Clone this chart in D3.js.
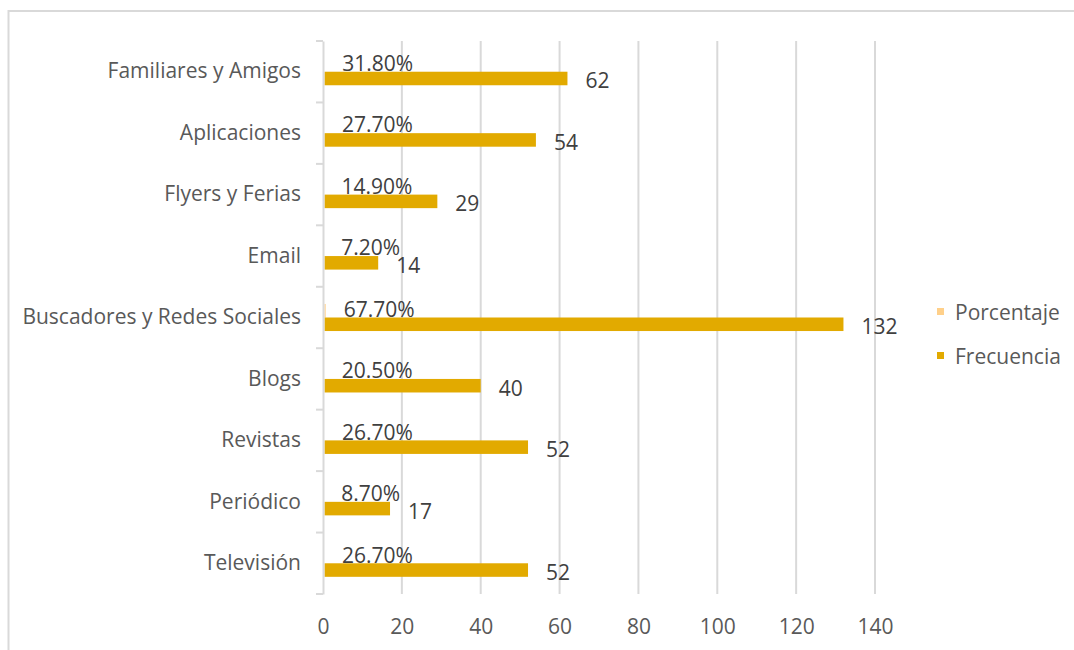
<!DOCTYPE html>
<html><head><meta charset="utf-8">
<script src="https://cdn.jsdelivr.net/npm/d3@7"></script>
<style>body{margin:0;background:#fff;} svg{display:block;}</style>
</head><body>
<svg id="c" width="1074" height="650"></svg>
<script>
const categories = ["Familiares y Amigos","Aplicaciones","Flyers y Ferias","Email","Buscadores y Redes Sociales","Blogs","Revistas","Periódico","Televisión"];
const porcentaje = [0.318,0.277,0.149,0.072,0.677,0.205,0.267,0.087,0.267];
const frecuencia = [62,54,29,14,132,40,52,17,52];
const seriesNames = ["Porcentaje","Frecuencia"];
const seriesColors = ["#FFD08A","#E2AA00"];
const xTicks = [0,20,40,60,80,100,120,140];

const svg = d3.select("#c");
const font = "'Open Sans', sans-serif";
const fs = 21;
const x = d3.scaleLinear().domain([0,140]).range([323,875]);
const y0 = d3.scaleBand().domain(categories).range([41,594]).padding(0);
const y1 = d3.scaleBand().domain(seriesNames).range([0,y0.bandwidth()]).paddingInner(0).paddingOuter(1.27);

// frame
svg.append("rect").attr("x",8.5).attr("y",11).attr("width",1100).attr("height",700)
  .attr("fill","none").attr("stroke","#d9d9d9").attr("stroke-width",2);

// gridlines
svg.append("g").selectAll("line").data(xTicks.slice(1)).join("line")
  .attr("x1",d=>x(d)).attr("x2",d=>x(d)).attr("y1",41).attr("y2",594)
  .attr("stroke","#d9d9d9").attr("stroke-width",2);

// bars
const rows = categories.map((c,i)=>({c, vals:[porcentaje[i],frecuencia[i]]}));
const g = svg.append("g").selectAll("g").data(rows).join("g")
  .attr("transform",d=>`translate(0,${y0(d.c)})`);
g.selectAll("rect").data(d=>d.vals.map((v,k)=>({v,s:seriesNames[k],k}))).join("rect")
  .attr("x",x(0)+1.5).attr("y",d=>y1(d.s)).attr("width",d=>Math.max(0,x(d.v)-x(0)-1.5)).attr("height",y1.bandwidth())
  .attr("fill",d=>seriesColors[d.k]);

// labels
g.append("text").attr("x",d=>x(d.vals[0])+18).attr("y",y1("Porcentaje")+y1.bandwidth()/2-2)
  .attr("dominant-baseline","central").attr("font-family",font).attr("font-size",fs).attr("fill","#404040")
  .text(d=>(d.vals[0]*100).toFixed(2)+"%");
g.append("text").attr("x",d=>x(d.vals[1])+18).attr("y",y1("Frecuencia")+y1.bandwidth()/2+2)
  .attr("dominant-baseline","central").attr("font-family",font).attr("font-size",fs).attr("fill","#404040")
  .text(d=>d.vals[1]);

// y axis
const ya = svg.append("g").attr("transform",`translate(${x(0)},0)`)
  .call(d3.axisLeft(y0).tickSize(0).tickPadding(22));
ya.select(".domain").attr("stroke","#d9d9d9").attr("stroke-width",2);
ya.selectAll("text").attr("font-family",font).attr("font-size",fs).attr("fill","#595959");
// category boundary ticks
svg.append("g").selectAll("line").data(d3.range(categories.length+1)).join("line")
  .attr("x1",x(0)-7).attr("x2",x(0))
  .attr("y1",i=>i<categories.length?y0(categories[i]):y0.range()[1])
  .attr("y2",i=>i<categories.length?y0(categories[i]):y0.range()[1])
  .attr("stroke","#d9d9d9").attr("stroke-width",2);

// x axis labels
const xa = svg.append("g").attr("transform",`translate(0,594)`)
  .call(d3.axisBottom(x).tickValues(xTicks).tickSize(0).tickPadding(25));
xa.select(".domain").remove();
xa.selectAll("text").attr("font-family",font).attr("font-size",fs).attr("fill","#595959");

// legend
const lg = svg.append("g").selectAll("g").data(seriesNames).join("g")
  .attr("transform",(d,i)=>`translate(937,${311.5+i*44})`);
lg.append("rect").attr("x",0).attr("y",-3.5).attr("width",7).attr("height",7).attr("fill",(d,i)=>seriesColors[i]);
lg.append("text").attr("x",18).attr("y",0).attr("dominant-baseline","central")
  .attr("font-family",font).attr("font-size",fs).attr("fill","#595959").text(d=>d);
</script>
</body></html>
